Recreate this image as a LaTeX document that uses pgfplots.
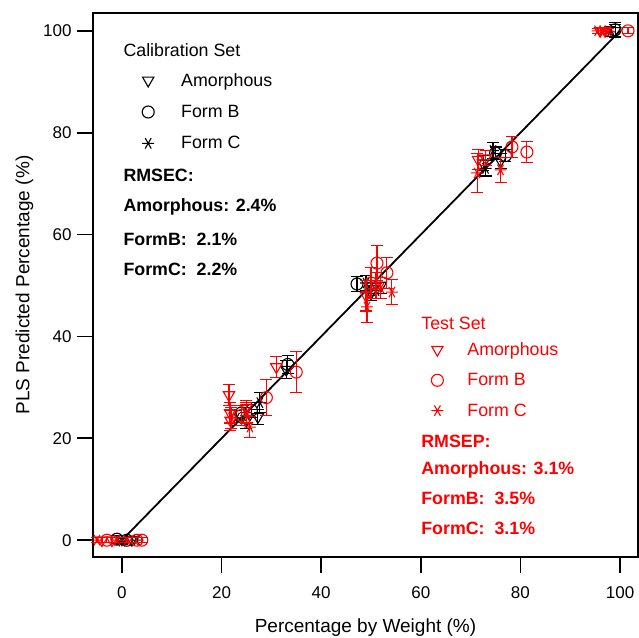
\documentclass[border=0pt]{standalone}
\usepackage{pgfplots}
\pgfplotsset{compat=1.18}
\usepackage{fontspec}
\setmainfont{Liberation Sans}
\begin{document}
\begin{tikzpicture}
\pgfplotsset{
 common/.style={
   scale only axis, width=545pt, height=544pt,
   xmin=-5.8, xmax=103.6, ymin=-3.3, ymax=103.5,
 },
 eb/.style={error bars/.cd, y dir=both, y explicit,
   error bar style={line width=1.1pt, #1},
   error mark options={rotate=90, mark size=6pt, line width=1.1pt, #1}},
 tk/.style={black, line width=1.8pt, no marks, forget plot},
}
\begin{axis}[common, name=ax,
  /pgf/number format/assume math mode=true,
  axis line style={line width=1.8pt},
  x tick style={line width=1.8pt, black},
  y tick style={line width=1.8pt, black},
  xtick align=outside, ytick align=outside, major tick length=16pt,
  xtick pos=left, ytick pos=left,
  xtick={0,20,...,100}, ytick={0,20,...,100},
  tick label style={font=\fontsize{17}{20}\selectfont},
  xticklabel style={yshift=-10pt},
  yticklabel style={xshift=-2pt},
  label style={font=\fontsize{19}{22}\selectfont},
  xlabel style={yshift=-16pt, inner sep=1pt},
  ylabel style={yshift=3pt},
  xlabel={Percentage by Weight (\%)},
  ylabel={PLS Predicted Percentage (\%)},
  legend style={draw=none, fill=none, at={(0.0844,0.897)}, anchor=north west,
     font=\fontsize{17.8}{20}\selectfont, row sep=13.5pt,
     /tikz/every odd column/.append style={column sep=25pt}},
  legend cell align=left,
]
\addplot[black, line width=1.8pt, no marks, forget plot] coordinates {(0,0) (100,100)};
\addplot[only marks, black, mark=triangle, mark size=6.5pt, mark options={rotate=180, line width=1.1pt, black}, eb=black] table[x=x,y=y,y error=e] {
x y e
0 0.2 0.8
2 0.1 0.5
25 23.5 1.5
27.3 24.2 1.5
33 33.5 1.8
50 48.5 1.5
52 50 1.5
72.5 74 1.5
76 74.5 1.5
99 100 1.2
};
\addplot[only marks, black, mark=o, mark size=6pt, mark options={line width=1.1pt, black}, eb=black] table[x=x,y=y,y error=e] {
x y e
-1 0.2 0.8
1 0 0.5
24 25 1.5
26 25.5 1.5
33.3 34.5 1.8
47.2 50.3 1.5
50 49.5 1.5
75 76 1.2
77 75.5 1.2
99 100.2 1.5
};
\addplot[only marks, black, mark=asterisk, mark size=6pt, mark options={rotate=90, line width=1.1pt, black}, eb=black] table[x=x,y=y,y error=e] {
x y e
0 -0.2 0.6
3 0 0.5
23 24 1.5
25 24.5 1.5
27.7 27 2
49 50.5 1.5
51 49 1.5
73 73 1.5
74.5 76.5 1.5
98 99.8 1
};
\legend{Amorphous, Form B, Form C}
\node[anchor=west, font=\fontsize{17.8}{20}\selectfont] at (rel axis cs:0.0495,0.932) {Calibration Set};
\node[anchor=west, font=\fontsize{17.8}{20}\selectfont\bfseries] at (rel axis cs:0.0495,0.702) {RMSEC:};
\node[anchor=west, font=\fontsize{17.8}{20}\selectfont\bfseries] at (rel axis cs:0.0495,0.643) {Amorphous: 2.4\%};
\node[anchor=west, font=\fontsize{17.8}{20}\selectfont\bfseries] at (rel axis cs:0.0495,0.583) {FormB:\ \ 2.1\%};
\node[anchor=west, font=\fontsize{17.8}{20}\selectfont\bfseries] at (rel axis cs:0.0495,0.528) {FormC:\ \ 2.2\%};
\end{axis}
\begin{axis}[common, hide axis, clip=false,
  legend style={draw=none, fill=none, at={(0.615,0.402)}, anchor=north west,
     font=\fontsize{17.8}{20}\selectfont, text=red, row sep=12.5pt,
     /tikz/every odd column/.append style={column sep=22pt}},
  legend cell align=left,
]
\addplot[tk] coordinates {(0,-3.3) (0,-6.44)};
\addplot[tk] coordinates {(20,-3.3) (20,-6.44)};
\addplot[tk] coordinates {(40,-3.3) (40,-6.44)};
\addplot[tk] coordinates {(60,-3.3) (60,-6.44)};
\addplot[tk] coordinates {(80,-3.3) (80,-6.44)};
\addplot[tk] coordinates {(100,-3.3) (100,-6.44)};
\addplot[only marks, red, mark=triangle, mark size=6.5pt, mark options={rotate=180, line width=1.1pt, red}, eb=red] table[x=x,y=y,y error=e] {
x y e
-4 0 0.5
-2 0 0.5
21.5 28.5 2
21.7 25 2
21.8 23.5 2
25 26 1.5
31 34 2
49 48 3
51 50 2.5
71.5 74.7 2
73 75 1.5
96 100 0.5
97 100 0.5
};
\addplot[only marks, red, mark=o, mark size=6pt, mark options={line width=1.1pt, red}, eb=red] table[x=x,y=y,y error=e] {
x y e
-3 0 0.5
3 0 0.5
4 0 0.5
24 24.5 2
29 28 3.5
35 33 4
51.2 54.4 3.5
53.2 52.5 3
50 50.5 3
78.3 77.2 2
81.3 76.2 2
101.6 100 0.6
};
\addplot[only marks, red, mark=asterisk, mark size=6pt, mark options={rotate=90, line width=1.1pt, red}, eb=red] table[x=x,y=y,y error=e] {
x y e
-5 0 0.5
-1 0 0.5
1 0 0.5
22 24 2
25 25 2
25.7 22.2 2
49.2 45.8 3
54.2 48.7 2.5
52 49.5 2
71.3 72.1 3.8
76 72.7 2.5
95.5 100 0.5
96.5 100 0.5
97.5 100 0.5
};
\legend{Amorphous, Form B, Form C}
\node[anchor=west, text=red, font=\fontsize{17.8}{20}\selectfont] at (rel axis cs:0.596,0.430) {Test Set};
\node[anchor=west, text=red, font=\fontsize{17.8}{20}\selectfont\bfseries] at (rel axis cs:0.596,0.213) {RMSEP:};
\node[anchor=west, text=red, font=\fontsize{17.8}{20}\selectfont\bfseries] at (rel axis cs:0.596,0.160) {Amorphous: 3.1\%};
\node[anchor=west, text=red, font=\fontsize{17.8}{20}\selectfont\bfseries] at (rel axis cs:0.596,0.107) {FormB:\ \ 3.5\%};
\node[anchor=west, text=red, font=\fontsize{17.8}{20}\selectfont\bfseries] at (rel axis cs:0.596,0.053) {FormC:\ \ 3.1\%};
\end{axis}
\path ([xshift=-93pt,yshift=13pt]ax.north west) rectangle ([xshift=1pt,yshift=-72pt]ax.south east);
\end{tikzpicture}
\end{document}
